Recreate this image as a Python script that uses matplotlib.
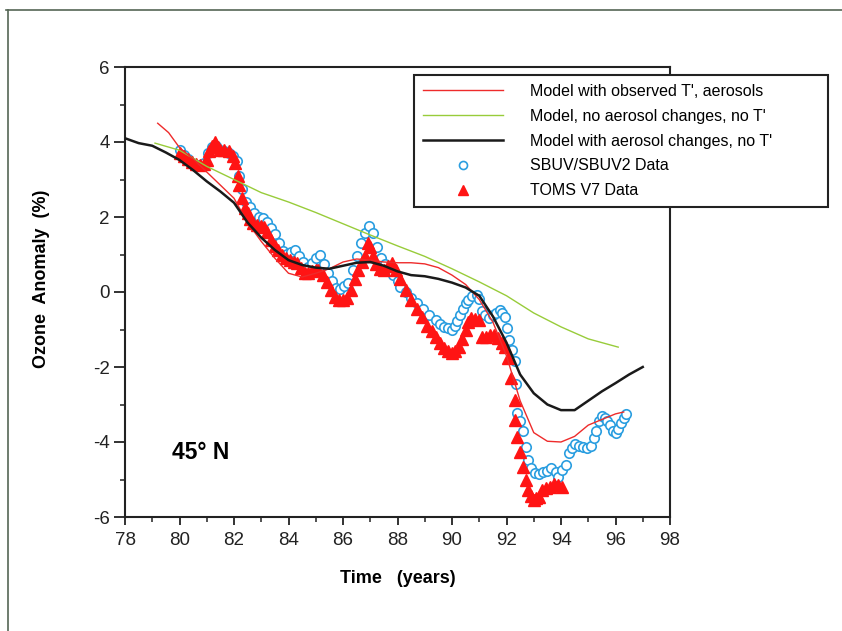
import matplotlib
matplotlib.use("Agg")
import matplotlib.pyplot as plt
from matplotlib.lines import Line2D

plt.rcParams['font.family'] = ['Liberation Sans', 'DejaVu Sans']
plt.rcParams['axes.unicode_minus'] = False

# ---- data ----
black_x = [78.0, 78.5, 79.0, 79.5, 80.0, 80.5, 81.0, 81.5, 82.0, 82.5, 83.0, 83.5, 84.0, 84.5,
           85.0, 85.5, 86.0, 86.5, 87.0, 87.5, 88.0, 88.5, 89.0, 89.5, 90.0, 90.5, 91.0, 91.5,
           92.0, 92.5, 93.0, 93.5, 94.0, 94.5, 95.0, 95.5, 96.0, 96.5, 97.0]
black_y = [4.1, 3.97, 3.9, 3.72, 3.52, 3.25, 2.95, 2.68, 2.38, 1.85, 1.45, 1.12, 0.85, 0.72,
           0.65, 0.62, 0.7, 0.78, 0.8, 0.7, 0.55, 0.45, 0.42, 0.35, 0.25, 0.12, -0.1, -0.65,
           -1.35, -2.2, -2.7, -3.0, -3.15, -3.15, -2.9, -2.65, -2.43, -2.2, -2.0]

green_x = [79.1, 80.0, 81.0, 82.0, 83.0, 84.0, 85.0, 86.0, 87.0, 88.0, 89.0, 90.0, 91.0,
           92.0, 93.0, 94.0, 95.0, 96.1]
green_y = [3.97, 3.78, 3.35, 3.0, 2.65, 2.4, 2.12, 1.82, 1.52, 1.23, 0.95, 0.62, 0.27,
           -0.1, -0.56, -0.93, -1.25, -1.47]

red_x = [79.2, 79.6, 80.0, 80.5, 81.0, 81.5, 82.0, 82.5, 83.0, 83.5, 84.0, 84.5, 85.0, 85.5,
         86.0, 86.5, 87.0, 87.5, 88.0, 88.5, 89.0, 89.5, 90.0, 90.5, 91.0, 91.5, 92.0, 92.5,
         93.0, 93.5, 94.0, 94.5, 95.0, 95.5, 96.0, 96.3]
red_y = [4.5, 4.25, 3.85, 3.55, 3.2, 2.85, 2.5, 1.85, 1.35, 0.9, 0.5, 0.4, 0.5, 0.62,
         0.8, 0.88, 0.85, 0.8, 0.78, 0.78, 0.75, 0.65, 0.45, 0.2, -0.2, -0.8, -1.7, -2.9,
         -3.75, -3.98, -4.0, -3.85, -3.55, -3.4, -3.25, -3.2]

sbuv_x = [80.0, 80.15, 80.3, 80.45, 80.6, 80.75, 80.9, 81.05, 81.2, 81.35, 81.5, 81.65, 81.8,
          81.95, 82.1, 82.2, 82.3, 82.45, 82.6, 82.75, 82.9, 83.05, 83.2, 83.35, 83.5, 83.65,
          83.8, 83.95, 84.1, 84.25, 84.4, 84.55, 84.7, 84.85, 85.0, 85.15, 85.3, 85.45, 85.6,
          85.75, 85.9, 86.05, 86.2, 86.35, 86.5, 86.65, 86.8, 86.95, 87.1, 87.25, 87.4, 87.55,
          87.7, 87.85, 88.0, 88.1, 88.3, 88.5, 88.7, 88.95, 89.15, 89.4, 89.55, 89.7, 89.85,
          90.0, 90.1, 90.2, 90.3, 90.4, 90.5, 90.6, 90.75, 90.9, 91.0, 91.1, 91.2, 91.35, 91.5,
          91.6, 91.75, 91.85, 91.95, 92.0, 92.1, 92.2, 92.3, 92.35, 92.4, 92.5, 92.6, 92.7,
          92.8, 92.9, 93.05, 93.2, 93.35, 93.5, 93.65, 93.8, 93.9, 94.05, 94.2, 94.3, 94.4,
          94.5, 94.65, 94.8, 94.95, 95.1, 95.2, 95.3, 95.4, 95.5, 95.6, 95.7, 95.8, 95.9, 96.0,
          96.1, 96.2, 96.3, 96.4]
sbuv_y = [3.78, 3.65, 3.55, 3.45, 3.4, 3.38, 3.45, 3.7, 3.88, 3.9, 3.78, 3.75, 3.7,
          3.62, 3.5, 3.1, 2.75, 2.4, 2.27, 2.1, 2.0, 1.98, 1.88, 1.7, 1.55, 1.3,
          1.1, 1.02, 1.08, 1.12, 0.95, 0.8, 0.68, 0.78, 0.92, 0.98, 0.75, 0.5, 0.3,
          0.12, 0.08, 0.15, 0.24, 0.6, 0.95, 1.3, 1.57, 1.75, 1.57, 1.2, 0.9, 0.75,
          0.6, 0.45, 0.3, 0.13, 0.0, -0.16, -0.3, -0.45, -0.6, -0.75, -0.85, -0.93, -0.95,
          -1.0, -0.9, -0.78, -0.6, -0.45, -0.3, -0.2, -0.1, -0.08, -0.18, -0.5, -0.62, -0.69, -0.6,
          -0.55, -0.48, -0.55, -0.66, -0.95, -1.28, -1.55, -1.85, -2.45, -3.23, -3.45, -3.7, -4.13,
          -4.48, -4.7, -4.83, -4.85, -4.8, -4.78, -4.7, -4.8, -4.93, -4.75, -4.6, -4.3, -4.15,
          -4.05, -4.1, -4.13, -4.15, -4.1, -3.9, -3.7, -3.45, -3.3, -3.35, -3.45, -3.55, -3.7, -3.75,
          -3.65, -3.5, -3.35, -3.25]

toms_x = [80.0, 80.15, 80.3, 80.45, 80.6, 80.75, 80.9, 81.0, 81.1, 81.2, 81.3, 81.4, 81.5,
          81.65, 81.8, 81.95, 82.05, 82.15, 82.2, 82.3, 82.4, 82.5, 82.6, 82.7, 82.85, 83.0,
          83.1, 83.2, 83.35, 83.5, 83.6, 83.75, 83.9, 84.05, 84.2, 84.3, 84.45, 84.6, 84.7,
          84.85, 85.0, 85.1, 85.25, 85.4, 85.55, 85.7, 85.85, 86.0, 86.15, 86.3, 86.45, 86.55,
          86.7, 86.8, 86.9, 87.0, 87.1, 87.2, 87.35, 87.5, 87.65, 87.8, 87.95, 88.1, 88.3,
          88.5, 88.7, 88.9, 89.1, 89.25, 89.4, 89.55, 89.7, 89.85, 90.0, 90.1, 90.25, 90.35,
          90.5, 90.6, 90.7, 90.85, 91.0, 91.1, 91.25, 91.4, 91.55, 91.7, 91.85, 91.95, 92.05,
          92.15, 92.3, 92.32, 92.4, 92.5, 92.6, 92.7, 92.8, 92.9, 93.0, 93.1, 93.2, 93.3,
          93.45, 93.6, 93.75, 93.9, 94.05]
toms_y = [3.7, 3.62, 3.55, 3.48, 3.42, 3.38, 3.42, 3.52, 3.75, 3.9, 4.0, 3.88, 3.78,
          3.78, 3.75, 3.62, 3.45, 3.1, 2.85, 2.5, 2.25, 2.1, 1.95, 1.84, 1.78, 1.75,
          1.73, 1.6, 1.4, 1.22, 1.12, 1.0, 0.9, 0.85, 0.8, 0.77, 0.65, 0.52, 0.5,
          0.55, 0.6, 0.58, 0.45, 0.28, 0.05, -0.13, -0.2, -0.22, -0.15, 0.05, 0.35, 0.59,
          0.8, 0.95, 1.3, 1.2, 0.95, 0.75, 0.62, 0.6, 0.7, 0.77, 0.6, 0.35, 0.05,
          -0.2, -0.45, -0.66, -0.9, -1.05, -1.2, -1.35, -1.5, -1.58, -1.63, -1.58, -1.47, -1.25,
          -1.0, -0.8, -0.7, -0.72, -0.75, -1.2, -1.2, -1.15, -1.15, -1.23, -1.35, -1.47, -1.75,
          -2.3, -2.88, -3.41, -3.87, -4.27, -4.67, -5.0, -5.28, -5.45, -5.55, -5.5, -5.47, -5.28,
          -5.22, -5.2, -5.12, -5.15, -5.2]

x_ticks = [78, 80, 82, 84, 86, 88, 90, 92, 94, 96, 98]
y_ticks = [-6, -4, -2, 0, 2, 4, 6]

labels = ["Model with observed T', aerosols",
          "Model, no aerosol changes, no T'",
          "Model with aerosol changes, no T'",
          "SBUV/SBUV2 Data",
          "TOMS V7 Data"]

c_red = '#ee2b2b'
c_green = '#98cc3a'
c_black = '#1a1a1a'
c_blue = '#2a9ee0'
c_tri = '#ff1414'

fig = plt.figure(figsize=(8.42, 6.31), dpi=100)
ax = fig.add_axes([125/842, 1-517/631, (670-125)/842, (517-67)/631])

h_sbuv, = ax.plot(sbuv_x, sbuv_y, linestyle='none', marker='o', markersize=6.8,
                  markerfacecolor='white', markeredgecolor=c_blue, markeredgewidth=1.2, zorder=3)
h_toms, = ax.plot(toms_x, toms_y, linestyle='none', marker='^', markersize=8.5,
                  color=c_tri, markeredgecolor=c_tri, zorder=4)
h_green, = ax.plot(green_x, green_y, color=c_green, lw=1.0, zorder=5)
h_red, = ax.plot(red_x, red_y, color=c_red, lw=1.0, zorder=5)
h_black, = ax.plot(black_x, black_y, color=c_black, lw=1.8, zorder=5)

ax.set_xlim(78, 98)
ax.set_ylim(-6, 6)
ax.set_xticks(x_ticks)
ax.set_yticks(y_ticks)
ax.set_xticks([x + 1 for x in x_ticks[:-1]], minor=True)
ax.set_yticks([y + 1 for y in y_ticks[:-1]], minor=True)
ax.tick_params(axis='both', which='major', direction='out', width=1.3, colors='#222222',
               labelsize=13.5)
ax.tick_params(axis='x', which='major', length=6, pad=5)
ax.tick_params(axis='y', which='major', length=8, pad=3)
ax.tick_params(axis='both', which='minor', direction='out', length=3.5, width=1.1,
               colors='#222222')
for s in ax.spines.values():
    s.set_linewidth(1.5)
    s.set_color('#222222')

ax.set_xlabel("Time   (years)", fontsize=13, fontweight='bold')
ax.xaxis.set_label_coords(0.5, -(570 - 517) / 450, transform=ax.transAxes)
ax.set_ylabel("Ozone  Anomaly  (%)", fontsize=13, fontweight='bold')
ax.yaxis.set_label_coords(-(125 - 50) / 545, 0.53)

ax.text(79.73, -4.27, "45° N", fontsize=16.5, fontweight='bold', va='center', ha='left')

leg = ax.legend([h_red, h_green, h_black, h_sbuv, h_toms], labels,
                loc='upper left',
                bbox_to_anchor=(414/842, 1 - 223/631, 414/842, 148/631),
                bbox_transform=fig.transFigure, mode='expand', borderaxespad=0,
                fontsize=11.5, handlelength=5.0, handletextpad=1.7, labelspacing=0.62,
                borderpad=0.55, numpoints=1, fancybox=False, framealpha=1,
                edgecolor='#222222', markerscale=0.85)
leg.get_frame().set_linewidth(1.5)
leg.set_zorder(10)

# outer scan frame (top and left edges only)
fig.add_artist(Line2D([8/842, 8/842], [0, 1-10/631], transform=fig.transFigure,
                      color='#556655', lw=1.2))
fig.add_artist(Line2D([6/842, 1], [1-10/631, 1-10/631], transform=fig.transFigure,
                      color='#556655', lw=1.2))

fig.savefig("out.png", dpi=100)
